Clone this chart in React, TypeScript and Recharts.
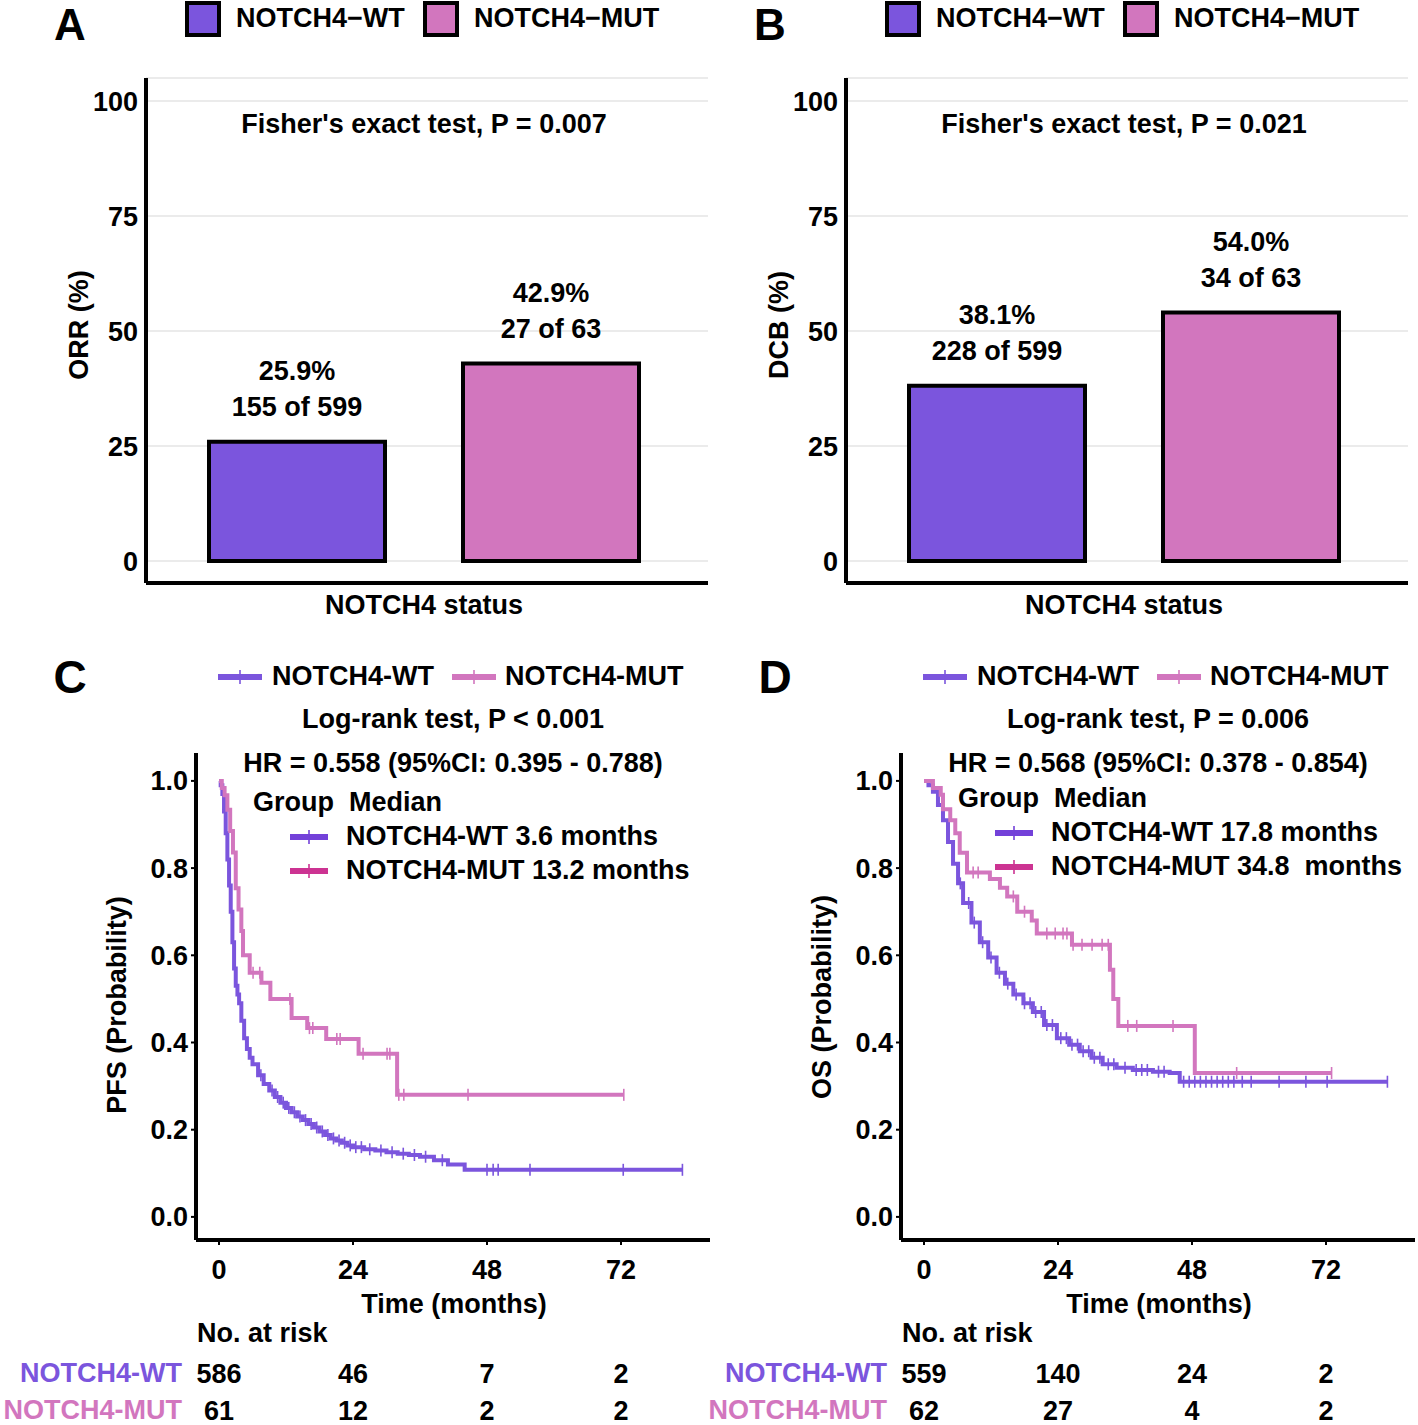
import React from 'react';
import { BarChart, Bar, Cell, XAxis, YAxis, CartesianGrid, LabelList, ComposedChart, Line, Scatter } from 'recharts';

const FONT = '"Liberation Sans", Arial, Helvetica, sans-serif';
const WT = '#7b55dd';
const MUT = '#d276be';
const WT_DARK = '#7341d9';
const MUT_DARK = '#cc3392';

// bar panels
const groups = ['NOTCH4-WT', 'NOTCH4-MUT'];
const orrPct = [25.9, 42.9];
const orrCount = ['155 of 599', '27 of 63'];
const dcbPct = [38.1, 54.0];
const dcbCount = ['228 of 599', '34 of 63'];
const pctTicks = [0, 25, 50, 75, 100];

// PFS curves (months, survival)
const pfsWtTime = [0, 0.3, 0.6, 0.9, 1.2, 1.5, 1.8, 2.1, 2.4, 2.7, 3.0, 3.3, 3.6, 4.0, 4.5, 5.0, 5.5, 6.0, 7.0, 8.0, 9.0, 10, 11, 12, 13, 14, 15, 16, 17, 18, 19, 20, 21, 22, 23, 24, 26, 28, 30, 32, 34, 36, 38.5, 41, 44, 83];
const pfsWtSurv = [1.0, 0.99, 0.97, 0.93, 0.88, 0.82, 0.76, 0.70, 0.63, 0.57, 0.53, 0.51, 0.49, 0.45, 0.41, 0.385, 0.365, 0.35, 0.325, 0.305, 0.29, 0.275, 0.262, 0.25, 0.24, 0.23, 0.222, 0.213, 0.205, 0.196, 0.188, 0.18, 0.175, 0.17, 0.164, 0.16, 0.155, 0.152, 0.148, 0.145, 0.142, 0.138, 0.13, 0.12, 0.108, 0.108];
const pfsWtCensTime = [7.5, 9.5, 10.5, 11.5, 12.5, 13.5, 14.5, 15.5, 16.5, 17.5, 18.5, 19.5, 20.5, 21.5, 22.5, 23.5, 24.5, 25.5, 27, 29, 31, 33, 35, 37, 40, 48, 49.1, 50, 55.7, 72.4, 83];
const pfsWtCensSurv = [0.325, 0.29, 0.275, 0.262, 0.25, 0.24, 0.23, 0.222, 0.213, 0.205, 0.196, 0.188, 0.18, 0.175, 0.17, 0.164, 0.16, 0.16, 0.155, 0.152, 0.148, 0.145, 0.142, 0.138, 0.13, 0.108, 0.108, 0.108, 0.108, 0.108, 0.108];

const pfsMutTime = [0, 0.5, 1.0, 1.5, 2.0, 2.5, 3.0, 3.5, 4.0, 4.3, 5.5, 7.6, 9.2, 13.0, 15.8, 19.2, 25.0, 31.9, 72.5];
const pfsMutSurv = [1.0, 0.984, 0.967, 0.934, 0.885, 0.836, 0.754, 0.705, 0.656, 0.60, 0.56, 0.537, 0.50, 0.456, 0.433, 0.408, 0.374, 0.28, 0.28];
const pfsMutCensTime = [6.1, 7.3, 12.7, 16.2, 16.8, 21.1, 21.7, 25.8, 30.1, 30.6, 32.2, 33.1, 44.6, 72.5];
const pfsMutCensSurv = [0.56, 0.56, 0.50, 0.433, 0.433, 0.408, 0.408, 0.374, 0.374, 0.374, 0.28, 0.28, 0.28, 0.28];

// OS curves
const osWtTime = [0, 0.8, 1.6, 2.5, 3.4, 4.3, 5.2, 6.1, 7.0, 8.5, 10, 11.5, 13, 14.5, 16, 17.8, 19.5, 21.5, 23.8, 26, 27.9, 30, 32, 34.5, 37.4, 41, 44, 45.8, 83];
const osWtSurv = [1.0, 0.99, 0.975, 0.945, 0.91, 0.86, 0.81, 0.765, 0.72, 0.675, 0.63, 0.595, 0.56, 0.535, 0.51, 0.49, 0.47, 0.44, 0.41, 0.395, 0.38, 0.365, 0.35, 0.342, 0.337, 0.333, 0.33, 0.31, 0.31];
const osWtCensTime = [6.5, 8, 9, 10.5, 12, 13.5, 15, 16.5, 18, 19, 20, 21, 22, 23, 24.5, 25.5, 26.5, 27.5, 28.5, 29.5, 30.5, 31.5, 33, 34, 36, 38, 39, 40, 42, 43, 46.5, 47.5, 48.5, 49.5, 50.5, 51.5, 52.5, 53.5, 54.5, 55.5, 57, 58.6, 63.6, 68.4, 72.2, 83];
const osWtCensSurv = [0.765, 0.72, 0.675, 0.63, 0.595, 0.56, 0.535, 0.51, 0.49, 0.49, 0.47, 0.47, 0.44, 0.44, 0.41, 0.41, 0.395, 0.395, 0.38, 0.38, 0.365, 0.365, 0.35, 0.35, 0.342, 0.337, 0.337, 0.337, 0.333, 0.333, 0.31, 0.31, 0.31, 0.31, 0.31, 0.31, 0.31, 0.31, 0.31, 0.31, 0.31, 0.31, 0.31, 0.31, 0.31, 0.31];

const osMutTime = [0, 1.6, 3.0, 3.4, 4.7, 5.6, 6.4, 7.7, 11.8, 13.6, 14.9, 16.7, 19.3, 20.2, 26.5, 33.3, 33.9, 34.8, 48.5, 73];
const osMutSurv = [1.0, 0.984, 0.968, 0.935, 0.91, 0.88, 0.835, 0.79, 0.775, 0.755, 0.735, 0.70, 0.68, 0.65, 0.624, 0.567, 0.50, 0.438, 0.33, 0.33];
const osMutCensTime = [8.8, 9.7, 16, 18, 22, 23.5, 24.9, 25.6, 26.7, 28.3, 30.1, 31.9, 33, 36.5, 38.1, 44.6, 56, 73];
const osMutCensSurv = [0.79, 0.79, 0.735, 0.70, 0.65, 0.65, 0.65, 0.65, 0.624, 0.624, 0.624, 0.624, 0.624, 0.438, 0.438, 0.438, 0.33, 0.33];

// numbers at risk
const riskTimes = [0, 24, 48, 72];
const pfsRiskWt = [586, 46, 7, 2];
const pfsRiskMut = [61, 12, 2, 2];
const osRiskWt = [559, 140, 24, 2];
const osRiskMut = [62, 27, 4, 2];

const zip = (t: number[], s: number[]) => t.map((v, i) => ({ t: v, s: s[i] }));

function Txt({ x, y, children, anchor = 'middle', size = 27, color = '#000', rotate = false }: any) {
  const tx = anchor === 'middle' ? '-50%' : anchor === 'end' ? '-100%' : '0';
  return (
    <div style={{ position: 'absolute', left: x, top: y, transform: `translate(${tx},-50%)${rotate ? ' rotate(-90deg)' : ''}`,
      fontSize: size, fontWeight: 700, color, whiteSpace: 'pre', lineHeight: 0.8 }}>{children}</div>
  );
}

const tickStyle = { fontSize: 27, fontWeight: 700, fill: '#000', fontFamily: FONT };

const BarLabel = (p: any) => {
  const [a, b] = String(p.value).split('|');
  const cx = p.x + p.width / 2;
  return (
    <g style={{ fontFamily: FONT, fontWeight: 700, fontSize: 27 }}>
      <text x={cx} y={p.y - 71} textAnchor="middle" dominantBaseline="central" fill="#000">{a}</text>
      <text x={cx} y={p.y - 35} textAnchor="middle" dominantBaseline="central" fill="#000">{b}</text>
    </g>
  );
};

function BarPanel({ left, letter, pct, counts, yLabel, pText }: any) {
  const data = groups.map((g, i) => ({ group: g, pct: pct[i], lab: `${pct[i].toFixed(1)}%|${counts[i]}` }));
  return (
    <>
      <div style={{ position: 'absolute', left, top: 0 }}>
        <BarChart width={720} height={600} data={data} margin={{ top: 78, right: 12, bottom: 0, left: 86 }}>
          <CartesianGrid vertical={false} stroke="#ebebeb" strokeWidth={2} />
          <XAxis dataKey="group" type="category" tick={false} tickLine={false} height={17}
            padding={{ left: 24, right: 30 }} axisLine={{ stroke: '#000', strokeWidth: 4 }} />
          <YAxis type="number" domain={[-4.8, 105]} ticks={pctTicks} allowDataOverflow width={60}
            axisLine={{ stroke: '#000', strokeWidth: 4 }} tickLine={false} tick={tickStyle} />
          <Bar dataKey="pct" barSize={176} stroke="#000" strokeWidth={4} isAnimationActive={false}>
            {data.map((d, i) => <Cell key={d.group} fill={i === 0 ? WT : MUT} />)}
            <LabelList dataKey="lab" content={BarLabel} />
          </Bar>
        </BarChart>
      </div>
      <Txt x={left + 70} y={25} size={44}>{letter}</Txt>
      <div style={{ position: 'absolute', left: left + 185, top: 1, width: 28, height: 28, border: '4px solid #000', background: WT }} />
      <Txt x={left + 236} y={19} anchor="start">NOTCH4−WT</Txt>
      <div style={{ position: 'absolute', left: left + 423, top: 1, width: 28, height: 28, border: '4px solid #000', background: MUT }} />
      <Txt x={left + 474} y={19} anchor="start">NOTCH4−MUT</Txt>
      <Txt x={left + 424} y={125}>{pText}</Txt>
      <Txt x={left + 80} y={325} rotate>{yLabel}</Txt>
      <Txt x={left + 424} y={606}>NOTCH4 status</Txt>
    </>
  );
}

const censorShape = (color: string) => (p: any) => (
  <line x1={p.cx} x2={p.cx} y1={p.cy - 6} y2={p.cy + 6} stroke={color} strokeWidth={1.6} />
);

const Key = ({ x, y, w, color }: any) => (
  <svg style={{ position: 'absolute', left: x, top: y - 7 }} width={w} height={14}>
    <line x1={0} x2={w} y1={7} y2={7} stroke={color} strokeWidth={6} />
    <line x1={w / 2} x2={w / 2} y1={0} y2={14} stroke={color} strokeWidth={1.6} />
  </svg>
);

const riskShape = (p: any) => (
  <text x={p.cx} y={p.cy} textAnchor="middle" dominantBaseline="central" fill="#000"
    style={{ fontFamily: FONT, fontWeight: 700, fontSize: 27 }}>{p.payload.n}</text>
);

function KmPanel({ left, letter, wt, mut, wtCens, mutCens, riskWt, riskMut, logrank, hr, wtMed, mutMed, yLabel, yLabelY, gy }: any) {
  const riskData = [
    ...riskTimes.map((t, i) => ({ t, row: 0, n: riskWt[i] })),
    ...riskTimes.map((t, i) => ({ t, row: 1, n: riskMut[i] })),
  ];
  return (
    <>
      <div style={{ position: 'absolute', left, top: 740 }}>
        <ComposedChart width={720} height={560} margin={{ top: 13, right: 10, bottom: 20, left: 136 }}>
          <XAxis type="number" dataKey="t" domain={[-4.12, 87.94]} ticks={riskTimes} allowDataOverflow height={40}
            tickSize={5} tickMargin={15} axisLine={{ stroke: '#000', strokeWidth: 4 }}
            tickLine={{ stroke: '#000', strokeWidth: 2 }} tick={tickStyle} />
          <YAxis type="number" dataKey="s" domain={[-0.053, 1.064]} ticks={[0, 0.2, 0.4, 0.6, 0.8, 1]} allowDataOverflow
            tickFormatter={(v: number) => v.toFixed(1)} width={60} tickSize={5} tickMargin={3}
            axisLine={{ stroke: '#000', strokeWidth: 4 }} tickLine={{ stroke: '#000', strokeWidth: 2 }} tick={tickStyle} />
          <Line data={wt} dataKey="s" type="stepAfter" stroke={WT} strokeWidth={4} dot={false} isAnimationActive={false} />
          <Scatter data={wtCens} shape={censorShape(WT)} isAnimationActive={false} />
          <Line data={mut} dataKey="s" type="stepAfter" stroke={MUT} strokeWidth={4} dot={false} isAnimationActive={false} />
          <Scatter data={mutCens} shape={censorShape(MUT)} isAnimationActive={false} />
        </ComposedChart>
      </div>
      <div style={{ position: 'absolute', left, top: 1354 }}>
        <ComposedChart width={720} height={71} margin={{ top: 0, right: 10, bottom: 0, left: 196 }}>
          <XAxis type="number" dataKey="t" domain={[-4.12, 87.94]} hide allowDataOverflow />
          <YAxis type="number" dataKey="row" domain={[-0.541, 1.378]} reversed hide allowDataOverflow />
          <Scatter data={riskData} shape={riskShape} isAnimationActive={false} />
        </ComposedChart>
      </div>
      <Txt x={left + 70} y={677} size={46}>{letter}</Txt>
      <Key x={left + 218} y={677} w={44} color={WT} />
      <Txt x={left + 272} y={677} anchor="start">NOTCH4-WT</Txt>
      <Key x={left + 452} y={677} w={44} color={MUT} />
      <Txt x={left + 505} y={677} anchor="start">NOTCH4-MUT</Txt>
      <Txt x={left + 453} y={720}>{logrank}</Txt>
      <Txt x={left + 453} y={764}>{hr}</Txt>
      <Txt x={left + 253} y={803 + gy} anchor="start">Group  Median</Txt>
      <Key x={left + 290} y={837 + gy} w={38} color={WT_DARK} />
      <Txt x={left + 346} y={837 + gy} anchor="start">{wtMed}</Txt>
      <Key x={left + 290} y={871 + gy} w={38} color={MUT_DARK} />
      <Txt x={left + 346} y={871 + gy} anchor="start">{mutMed}</Txt>
      <Txt x={left + 118} y={yLabelY} rotate>{yLabel}</Txt>
      <Txt x={left + 454} y={1305}>Time (months)</Txt>
      <Txt x={left + 197} y={1334} anchor="start">No. at risk</Txt>
      <Txt x={left + 182} y={1374} anchor="end" color={WT}>NOTCH4-WT</Txt>
      <Txt x={left + 182} y={1411} anchor="end" color={MUT}>NOTCH4-MUT</Txt>
    </>
  );
}

export default function App() {
  return (
    <div style={{ position: 'absolute', left: 0, top: 0, width: 1418, height: 1425, overflow: 'hidden', background: '#fff', fontFamily: FONT }}>
      <BarPanel left={0} letter="A" pct={orrPct} counts={orrCount} yLabel="ORR (%)" pText="Fisher's exact test, P = 0.007" />
      <BarPanel left={700} letter="B" pct={dcbPct} counts={dcbCount} yLabel="DCB (%)" pText="Fisher's exact test, P = 0.021" />
      <KmPanel left={0} letter="C" wt={zip(pfsWtTime, pfsWtSurv)} mut={zip(pfsMutTime, pfsMutSurv)}
        wtCens={zip(pfsWtCensTime, pfsWtCensSurv)} mutCens={zip(pfsMutCensTime, pfsMutCensSurv)}
        riskWt={pfsRiskWt} riskMut={pfsRiskMut} logrank="Log-rank test, P < 0.001"
        hr="HR = 0.558 (95%CI: 0.395 - 0.788)" wtMed="NOTCH4-WT 3.6 months" mutMed="NOTCH4-MUT 13.2 months"
        yLabel="PFS (Probability)" yLabelY={1005} gy={0} />
      <KmPanel left={705} letter="D" wt={zip(osWtTime, osWtSurv)} mut={zip(osMutTime, osMutSurv)}
        wtCens={zip(osWtCensTime, osWtCensSurv)} mutCens={zip(osMutCensTime, osMutCensSurv)}
        riskWt={osRiskWt} riskMut={osRiskMut} logrank="Log-rank test, P = 0.006"
        hr="HR = 0.568 (95%CI: 0.378 - 0.854)" wtMed="NOTCH4-WT 17.8 months" mutMed="NOTCH4-MUT 34.8  months"
        yLabel="OS (Probability)" yLabelY={997} gy={-4} />
    </div>
  );
}
